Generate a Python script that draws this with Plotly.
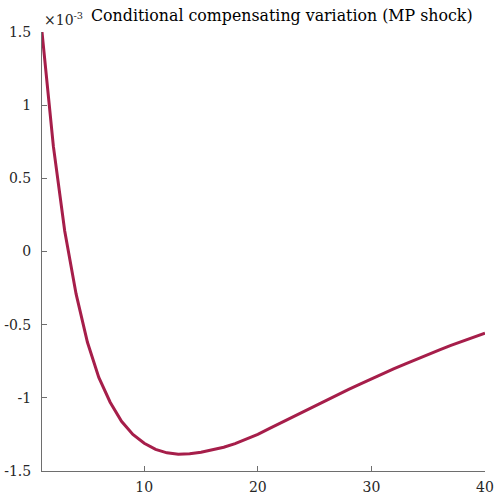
import plotly.graph_objects as go

# Horizon (quarters after the shock)
horizon = list(range(1, 41))

# Conditional compensating variation, in units of 1e-3
ccv_e3 = [
    1.500, 0.720, 0.140, -0.290, -0.620, -0.860, -1.030, -1.160, -1.250, -1.310,
    -1.352, -1.376, -1.385, -1.382, -1.372, -1.357, -1.338, -1.313, -1.284, -1.250,
    -1.211, -1.172, -1.133, -1.094, -1.055, -1.017, -0.979, -0.942, -0.906, -0.870,
    -0.835, -0.801, -0.768, -0.735, -0.703, -0.672, -0.642, -0.613, -0.585, -0.558,
]

y_ticks = [-1.5, -1, -0.5, 0, 0.5, 1, 1.5]
y_tick_text = ["-1.5", "-1", "-0.5", "0", "0.5", "1", "1.5"]
x_ticks = [10, 20, 30, 40]
title_text = "Conditional compensating variation (MP shock)"
scale_text = "×10<sup>-3</sup>"

serif = "DejaVu Serif"
axis_grey = "#6e6e6e"
text_grey = "#262626"

fig = go.Figure()
fig.add_trace(go.Scatter(
    x=horizon, y=ccv_e3, mode="lines",
    line=dict(color="#A61E4A", width=3),
    showlegend=False, hoverinfo="skip",
))

fig.update_layout(
    width=495, height=499,
    margin=dict(l=42, r=10, t=32, b=28, autoexpand=False),
    paper_bgcolor="white", plot_bgcolor="white",
    font=dict(family=serif, size=14, color=text_grey),
    xaxis=dict(
        range=[1, 40], tickvals=x_ticks, ticks="inside", ticklen=5,
        tickcolor=axis_grey, showline=True, linecolor=axis_grey, linewidth=1,
        showgrid=False, zeroline=False, ticklabelstandoff=3, automargin=False,
        tickfont=dict(family=serif, size=14, color=text_grey),
    ),
    yaxis=dict(
        range=[-1.5, 1.5], tickvals=y_ticks, ticktext=y_tick_text,
        ticks="inside", ticklen=5, tickcolor=axis_grey, showline=True,
        linecolor=axis_grey, linewidth=1, showgrid=False, zeroline=False,
        ticklabelstandoff=7, automargin=False,
        tickfont=dict(family=serif, size=14, color=text_grey),
    ),
    annotations=[
        dict(text=title_text, xref="paper", yref="paper",
             x=(89 - 42) / 443, y=1, xanchor="left", yanchor="bottom", yshift=5,
             showarrow=False, font=dict(family=serif, size=15.8, color="#000000")),
        dict(text=scale_text, xref="paper", yref="paper",
             x=0, y=1, xanchor="left", yanchor="bottom", yshift=2,
             showarrow=False, font=dict(family=serif, size=14, color=text_grey)),
    ],
)

fig.write_html("out.html")
